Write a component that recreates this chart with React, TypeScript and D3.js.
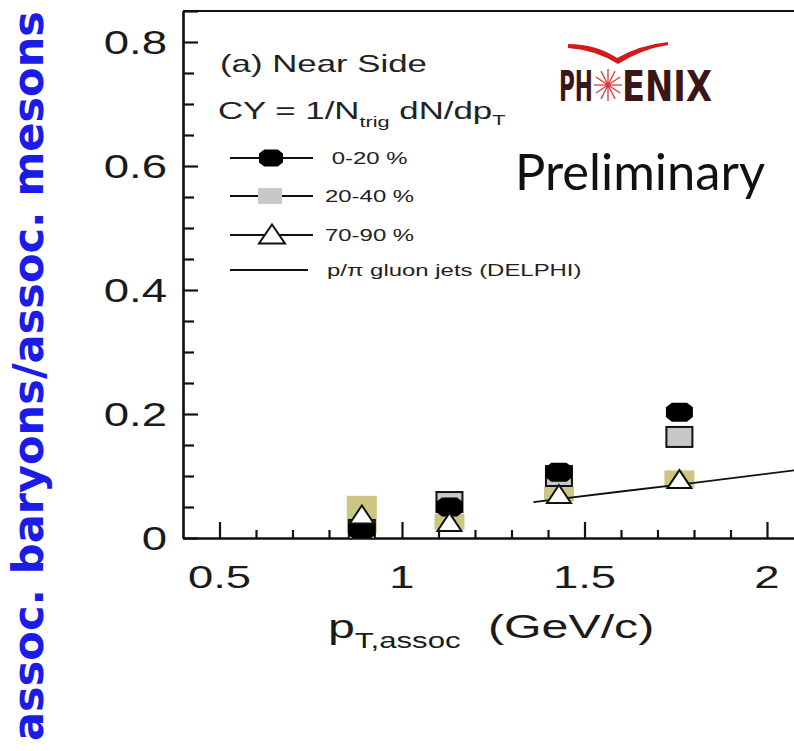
import { useEffect, useRef } from "react";
import * as d3 from "d3";

// p_T,assoc bin centres (GeV/c)
const pT = [0.89, 1.13, 1.43, 1.76];
// baryon/meson ratios per centrality
const cent0020 = [0.013, 0.05, 0.106, 0.203];
const cent2040 = [0.013, 0.058, 0.1, 0.163];
const cent7090 = [0.038, 0.026, 0.071, 0.095];
const sys7090 = [0.03, 0.013, 0.012, 0.014];
// DELPHI gluon jet p/pi curve
const delphiPt = [1.36, 1.6, 1.8, 2.1];
const delphiRatio = [0.058, 0.075, 0.089, 0.111];

const xMajor = [0.5, 1, 1.5, 2];
const yMajor = [0, 0.2, 0.4, 0.6, 0.8];
const legendLabels = [" 0-20 %", "20-40 %", "70-90 %", "p/\u03c0 gluon jets (DELPHI)"];

const W = 794;
const H = 751;
const FONT = "'Liberation Sans', Arial, Helvetica, sans-serif";

const octagon = (cx: number, cy: number, w: number, h: number) => {
  const a = w / 2, b = h / 2, c = w * 0.22, d = h * 0.24;
  return [
    [cx - a + c, cy - b], [cx + a - c, cy - b], [cx + a, cy - b + d], [cx + a, cy + b - d],
    [cx + a - c, cy + b], [cx - a + c, cy + b], [cx - a, cy + b - d], [cx - a, cy - b + d],
  ].map((p) => p.join(",")).join(" ");
};

const triangle = (cx: number, cy: number, w: number, h: number) =>
  [[cx, cy - h / 2], [cx + w / 2, cy + h / 2], [cx - w / 2, cy + h / 2]].map((p) => p.join(",")).join(" ");

export default function App() {
  const ref = useRef<SVGSVGElement>(null);

  useEffect(() => {
    const svg = d3.select(ref.current);
    svg.selectAll("*").remove();

    const x = d3.scaleLinear().domain([0.4, 2.1]).range([183, 183 + 1.7 * 365]);
    const y = d3.scaleLinear().domain([0, 0.85]).range([538, 11]);

    svg.append("clipPath").attr("id", "plot").append("rect")
      .attr("x", 183).attr("y", 11).attr("width", W - 183).attr("height", 538 - 11);

    // axes
    const xMinor = d3.range(0.5, 2.11, 0.1).filter((v) => !xMajor.some((m) => Math.abs(m - v) < 1e-6));
    const yMinor = d3.range(0.05, 0.85, 0.05).filter((v) => !yMajor.some((m) => Math.abs(m - v) < 1e-6));

    const axes = svg.append("g").attr("stroke", "#111");
    axes.append("g").attr("transform", `translate(0,${y(0)})`)
      .call(d3.axisBottom(x).tickValues(xMinor).tickSize(-8).tickSizeOuter(0).tickFormat(() => ""));
    axes.append("g").attr("transform", `translate(0,${y(0)})`)
      .call(d3.axisBottom(x).tickValues(xMajor).tickSize(-16).tickSizeOuter(0).tickFormat(() => ""));
    axes.append("g").attr("transform", `translate(${x(0.4)},0)`)
      .call(d3.axisLeft(y).tickValues(yMinor).tickSize(-11).tickSizeOuter(0).tickFormat(() => ""));
    axes.append("g").attr("transform", `translate(${x(0.4)},0)`)
      .call(d3.axisLeft(y).tickValues(yMajor.concat([0.85])).tickSize(-15).tickSizeOuter(0).tickFormat(() => ""));
    axes.selectAll("path, line").attr("stroke", "#111").attr("stroke-width", 2.2);
    axes.append("line").attr("x1", x(0.4)).attr("x2", W).attr("y1", y(0.85)).attr("y2", y(0.85))
      .attr("stroke-width", 2.2);

    // tick labels
    const fmt = d3.format("~g");
    svg.append("g").selectAll("text").data(yMajor).join("text")
      .attr("transform", (d) => `translate(167,${y(d) + 12}) scale(1.38,1)`)
      .attr("text-anchor", "end").attr("font-family", FONT).attr("font-size", 33).attr("fill", "#1a1a1a")
      .text((d) => fmt(d));
    svg.append("g").selectAll("text").data(xMajor).join("text")
      .attr("transform", (d) => `translate(${x(d)},588) scale(1.42,1)`)
      .attr("text-anchor", "middle").attr("font-family", FONT).attr("font-size", 32).attr("fill", "#1a1a1a")
      .text((d) => fmt(d));

    // axis titles
    const xt = svg.append("text").attr("transform", "translate(328,638) scale(1.42,1)")
      .attr("font-family", FONT).attr("font-size", 34).attr("fill", "#1a1a1a");
    xt.append("tspan").text("p");
    xt.append("tspan").attr("font-size", 22).attr("dy", 10).text("T,assoc");
    svg.append("text").attr("transform", "translate(488,638) scale(1.42,1)")
      .attr("font-family", FONT).attr("font-size", 34).attr("fill", "#1a1a1a").text("(GeV/c)");

    svg.append("text")
      .attr("transform", "translate(43,376) rotate(-90) scale(1,1.28)")
      .attr("text-anchor", "middle").attr("font-family", "'DejaVu Sans', Verdana, sans-serif")
      .attr("font-weight", "bold").attr("font-size", 33).attr("fill", "#1c1ce8")
      .attr("textLength", 730).attr("lengthAdjust", "spacingAndGlyphs")
      .text("assoc. baryons/assoc. mesons");

    // data
    const plot = svg.append("g").attr("clip-path", "url(#plot)");
    plot.append("g").selectAll("rect").data(pT).join("rect")
      .attr("x", (d) => x(d) - 15).attr("width", 30)
      .attr("y", (d, i) => y(cent7090[i] + sys7090[i]))
      .attr("height", (d, i) => y(cent7090[i] - sys7090[i]) - y(cent7090[i] + sys7090[i]))
      .attr("fill", "#cdc683");

    const line = d3.line<number>().x((d) => x(d)).y((d, i) => y(delphiRatio[i]));
    plot.append("path").attr("d", line(delphiPt)).attr("fill", "none")
      .attr("stroke", "#111").attr("stroke-width", 1.8);

    plot.append("g").selectAll("rect").data(pT).join("rect")
      .attr("x", (d) => x(d) - 13).attr("y", (d, i) => y(cent2040[i]) - 10)
      .attr("width", 26).attr("height", 20)
      .attr("fill", "#c8c8c8").attr("stroke", "#111").attr("stroke-width", 2);
    plot.append("g").selectAll("polygon").data(pT).join("polygon")
      .attr("points", (d, i) => octagon(x(d), y(cent0020[i]), 27, 19)).attr("fill", "#000");
    plot.append("g").selectAll("polygon").data(pT).join("polygon")
      .attr("points", (d, i) => triangle(x(d), y(cent7090[i]), 24, 18))
      .attr("fill", "#fff").attr("stroke", "#111").attr("stroke-width", 2);

    // legend
    const lg = svg.append("g");
    lg.append("text").attr("transform", "translate(220,72) scale(1.45,1)")
      .attr("font-family", FONT).attr("font-size", 24).attr("fill", "#222").text("(a) Near Side");
    const cy = lg.append("text").attr("transform", "translate(218,119) scale(1.45,1)")
      .attr("font-family", FONT).attr("font-size", 24).attr("fill", "#222");
    cy.append("tspan").text("CY = 1/N");
    cy.append("tspan").attr("font-size", 15).attr("dy", 8).text("trig");
    cy.append("tspan").attr("dy", -8).text(" dN/dp");
    cy.append("tspan").attr("font-size", 15).attr("dy", 6).text("T");

    const rows = [158, 196, 235, 270];
    legendLabels.forEach((lab, i) => {
      const ry = rows[i];
      lg.append("line").attr("x1", 230).attr("x2", i === 3 ? 308 : 313).attr("y1", ry).attr("y2", ry)
        .attr("stroke", "#111").attr("stroke-width", 1.8);
      lg.append("text").attr("transform", `translate(${i === 3 ? 327 : 325},${ry + 6}) scale(1.45,1)`)
        .attr("font-family", FONT).attr("font-size", 16.5).attr("fill", "#222")
        .attr("xml:space", "preserve").text(lab);
    });
    lg.append("polygon").attr("points", octagon(271, rows[0], 24, 17)).attr("fill", "#000");
    lg.append("rect").attr("x", 258).attr("y", rows[1] - 8).attr("width", 24).attr("height", 16).attr("fill", "#c8c8c8");
    lg.append("polygon").attr("points", triangle(272, rows[2] - 1, 26, 19))
      .attr("fill", "#fff").attr("stroke", "#111").attr("stroke-width", 2);

    // PHENIX logo
    const logo = svg.append("g");
    logo.append("path")
      .attr("d", "M568,44 Q596,44 617,58 Q640,45 668,42 L668,45 Q642,49 618,64 Q596,50 568,48 Z")
      .attr("fill", "#d41a1a");
    logo.append("text").attr("x", 559).attr("y", 101).attr("font-family", "'Liberation Sans Narrow', 'DejaVu Sans Condensed', sans-serif")
      .attr("font-size", 42).attr("font-weight", "bold").attr("fill", "#3a1616").attr("textLength", 34).attr("lengthAdjust", "spacingAndGlyphs").text("PH");
    logo.append("text").attr("x", 622).attr("y", 101).attr("font-family", "'Liberation Sans Narrow', 'DejaVu Sans Condensed', sans-serif")
      .attr("font-size", 42).attr("font-weight", "bold").attr("fill", "#3a1616").attr("textLength", 90).attr("lengthAdjust", "spacingAndGlyphs").text("ENIX");
    const star = logo.append("g").attr("stroke", "#e03838").attr("stroke-width", 1.3);
    d3.range(12).forEach((k) => {
      const a = (k * Math.PI) / 6;
      star.append("line").attr("x1", 608).attr("y1", 85).attr("x2", 608 + 14 * Math.cos(a)).attr("y2", 85 + 16 * Math.sin(a));
    });
    logo.append("circle").attr("cx", 608).attr("cy", 85).attr("r", 2.5).attr("fill", "#e03838");

    svg.append("text").attr("x", 515).attr("y", 190).attr("font-family", "Lato, 'Open Sans', sans-serif")
      .attr("font-size", 50).attr("fill", "#111").attr("textLength", 250).attr("lengthAdjust", "spacingAndGlyphs")
      .text("Preliminary");
  }, []);

  return (
    <svg ref={ref} width={W} height={H} style={{ position: "absolute", left: 0, top: 0, background: "#fff" }} />
  );
}
